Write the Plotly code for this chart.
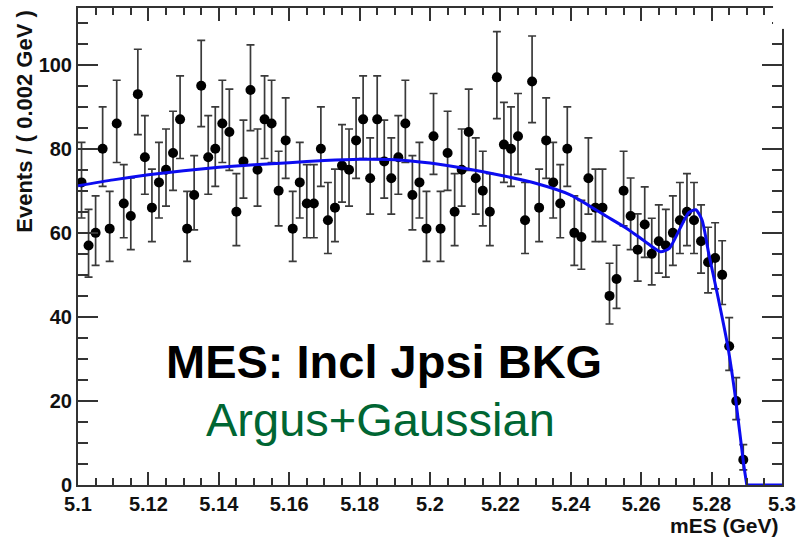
import numpy as np
import plotly.graph_objects as go

# ---- data ----
bin_width = 0.002
first_center = 5.101
counts = [72, 57, 60, 80, 61, 86, 67, 64, 93, 78,
          66, 72, 75, 79, 87, 61, 69, 95, 78, 80,
          86, 84, 65, 77, 94, 75, 87, 86, 70, 82,
          61, 72, 67, 67, 80, 63, 66, 76, 75, 82,
          87, 73, 87, 77, 73, 78, 86, 69, 72, 61,
          83, 61, 79, 65, 75, 84, 73, 70, 65, 97,
          81, 80, 83, 63, 96, 66, 82, 72, 67, 80,
          60, 59, 73, 66, 66, 45, 49, 70, 64, 56,
          62, 55, 58, 57, 60, 63, 65, 63, 58, 53,
          54, 50, 33, 20, 6]

# fitted Argus+Gaussian curve
fit_x = [5.100, 5.110, 5.120, 5.130, 5.140, 5.150, 5.160, 5.170, 5.180, 5.190,
         5.200, 5.210, 5.220, 5.230, 5.240, 5.250, 5.256, 5.261, 5.2655, 5.268,
         5.271, 5.2735, 5.2755, 5.2773, 5.2792, 5.2816, 5.2846, 5.2869, 5.2891, 5.290]
fit_y = [71.2, 72.6, 73.8, 74.8, 75.6, 76.2, 76.7, 77.2, 77.5, 77.4,
         76.6, 75.3, 73.7, 71.8, 69.0, 64.0, 61.0, 58.0, 55.5, 56.3,
         61.0, 64.8, 65.5, 63.0, 55.0, 45.6, 33.0, 20.0, 5.0, 0.0]
tail_x = [5.290, 5.300]
tail_y = [0.0, 0.0]

x_ticks = [5.10, 5.12, 5.14, 5.16, 5.18, 5.20, 5.22, 5.24, 5.26, 5.28, 5.30]
x_tick_text = ["5.1", "5.12", "5.14", "5.16", "5.18", "5.2", "5.22", "5.24", "5.26", "5.28", "5.3"]
y_ticks = [0, 20, 40, 60, 80, 100]
y_tick_text = ["0", "20", "40", "60", "80", "100"]

title_main = "MES: Incl Jpsi BKG"
title_sub = "Argus+Gaussian"
x_title = "mES (GeV)"
y_title = "Events / ( 0.002 GeV )"

# ---- derived ----
n = np.array(counts, dtype=float)
centers = first_center + bin_width * np.arange(len(counts))
err_up = 1.0 + np.sqrt(n + 0.75)
err_lo = np.sqrt(np.maximum(n - 0.25, 0))

FONT = "Liberation Sans, Arial, Helvetica, sans-serif"
AXC = "#333333"

fig = go.Figure()
fig.add_trace(go.Scatter(
    x=centers, y=n, mode="markers",
    marker=dict(color="black", size=10),
    error_y=dict(type="data", symmetric=False, array=err_up, arrayminus=err_lo,
                 color="#3a3a3a", thickness=1.7, width=4),
    showlegend=False, cliponaxis=False))
fig.add_trace(go.Scatter(
    x=fit_x, y=fit_y, mode="lines",
    line=dict(color="#0c0cf0", width=3, shape="spline", smoothing=0.6),
    showlegend=False))
fig.add_trace(go.Scatter(
    x=tail_x, y=tail_y, mode="lines",
    line=dict(color="#0c0cf0", width=3),
    showlegend=False, cliponaxis=False))

L, R, T, B = 78, 17, 6, 54
W, H = 802, 539
pw, ph = W - L - R, H - T - B

def px_x(p):
    return (p - L) / pw

def px_y(p):
    return (H - B - p) / ph

fig.update_layout(
    width=W, height=H,
    margin=dict(l=L, r=R, t=T, b=B),
    paper_bgcolor="white", plot_bgcolor="white",
    font=dict(family=FONT, color="#111111"),
    xaxis=dict(range=[5.1, 5.3], tickvals=x_ticks, ticktext=x_tick_text,
               showgrid=False, zeroline=False,
               showline=True, linecolor=AXC, linewidth=2, mirror="ticks",
               ticks="inside", ticklen=13, tickwidth=2, tickcolor=AXC,
               tickfont=dict(family=FONT, size=20, weight="bold", color="#111111"),
               minor=dict(dtick=0.005, ticks="inside", ticklen=7, tickwidth=2, tickcolor=AXC, showgrid=False)),
    yaxis=dict(range=[0, 113.5], tickvals=y_ticks, ticktext=y_tick_text,
               showgrid=False, zeroline=False,
               showline=True, linecolor=AXC, linewidth=2, mirror="ticks",
               ticks="inside", ticklen=20, tickwidth=2, tickcolor=AXC,
               tickfont=dict(family=FONT, size=20, weight="bold", color="#111111"),
               minor=dict(dtick=5, ticks="inside", ticklen=10, tickwidth=2, tickcolor=AXC, showgrid=False)),
    annotations=[
        dict(text=title_main, xref="paper", yref="paper", x=px_x(385), y=px_y(361),
             xanchor="center", yanchor="middle", showarrow=False,
             font=dict(family=FONT, size=47, weight="bold", color="black")),
        dict(text=title_sub, xref="paper", yref="paper", x=px_x(382), y=px_y(419),
             xanchor="center", yanchor="middle", showarrow=False,
             font=dict(family=FONT, size=47, color="#006633")),
        dict(text=y_title, xref="paper", yref="paper", x=px_x(24), y=px_y(6),
             xanchor="center", yanchor="top", textangle=-90, showarrow=False,
             font=dict(family=FONT, size=22, weight="bold", color="#111111")),
        dict(text=x_title, xref="paper", yref="paper", x=px_x(784), y=px_y(526),
             xanchor="right", yanchor="middle", showarrow=False,
             font=dict(family=FONT, size=21, weight="bold", color="#111111")),
    ],
    shapes=[dict(type="rect", xref="paper", yref="paper",
                 x0=px_x(776), x1=px_x(802), y0=px_y(27), y1=px_y(0),
                 fillcolor="white", line=dict(width=0), layer="above")],
)

fig.write_html("out.html")
